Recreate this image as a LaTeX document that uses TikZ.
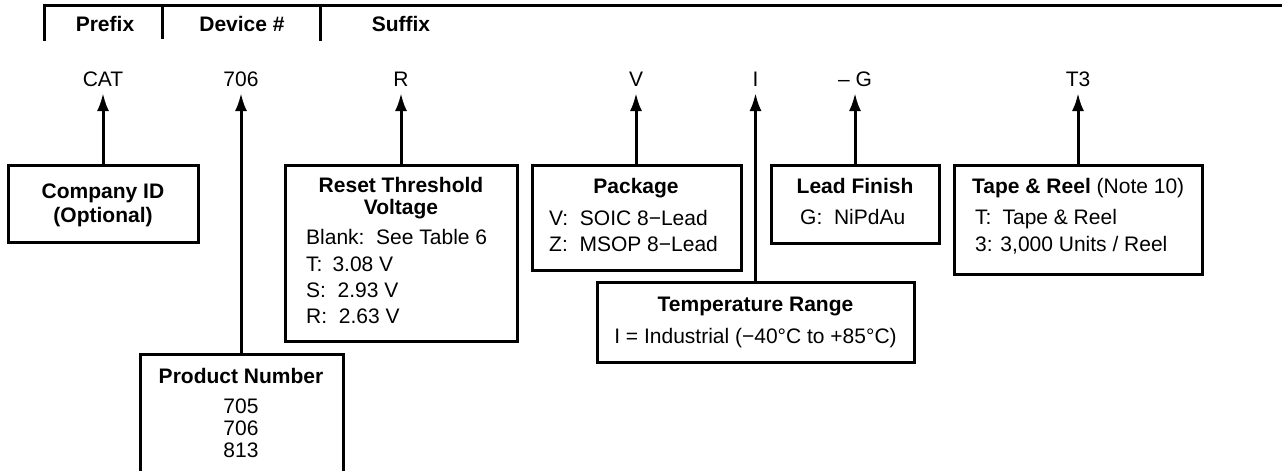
\documentclass[tikz,border=0pt]{standalone}
\usepackage{fontspec}
\setmainfont{Liberation Sans}
\usetikzlibrary{arrows.meta}
\tikzset{
  x=1pt,y=-1pt,
  boxed/.style={draw=black,line width=3pt,fill=white,inner sep=0pt,outer sep=0pt,anchor=north west},
  open/.style={draw=none,inner sep=0pt,outer sep=0pt,anchor=north west},
  link/.style={line width=3pt,draw=black,-{Latex[length=18pt,width=12pt]}},
  rule/.style={line width=3pt,draw=black},
  txt/.style={anchor=base,inner sep=0pt,font=\fontsize{21}{24}\selectfont},
  lft/.style={anchor=base west,inner sep=0pt,font=\fontsize{21}{24}\selectfont},
  hd/.style={anchor=base,inner sep=0pt,font=\fontsize{21}{24}\selectfont\bfseries},
}
\newcommand{\mybox}[5]{\node[boxed,minimum width=#4-#2,minimum height=#5-#3] (#1) at (#2,#3) {};}
\begin{document}
\begin{tikzpicture}
\useasboundingbox (0,0) rectangle (1282,471);
% header
\coordinate (hl) at (44,5.5); \coordinate (hr) at (1282,5.5);
\coordinate (ha) at (44,41); \coordinate (hb) at (162,5.5); \coordinate (hb2) at (162,39);
\coordinate (hc) at (320,5.5); \coordinate (hc2) at (320,41);
\draw[rule] (ha) -- (hl) -- (hr);
\draw[rule] (hb) -- (hb2);
\draw[rule] (hc) -- (hc2);
\node[hd] (p1) at (105,31) {Prefix};
\node[hd] (p2) at (242,31) {Device \#};
\node[hd] (p3) at (401,31) {Suffix};
% part labels
\node[txt] (cat) at (103,86) {CAT};
\node[txt] (n706) at (241,86) {706};
\node[txt] (r) at (401,86) {R};
\node[txt] (v) at (636,86) {V};
\node[txt] (i) at (755.5,86) {I};
\node[txt] (g) at (855,86) {– G};
\node[txt] (t3) at (1078,86) {T3};
\coordinate (catc) at (103,93);
\coordinate (n706c) at (241,93);
\coordinate (rc) at (401,93);
\coordinate (vc) at (636,93);
\coordinate (ic) at (755.5,93);
\coordinate (gc) at (855,93);
\coordinate (t3c) at (1078,93);
% boxes
\mybox{bco}{8}{165}{198}{242}
\mybox{bre}{285}{165}{517}{341}
\mybox{bpa}{532}{165}{741}{270}
\mybox{ble}{771}{165}{939}{243}
\mybox{bta}{954}{165}{1202}{274}
\mybox{bte}{597}{282}{914}{362}
\node[open,minimum width=203,minimum height=117] (bpr) at (140,354) {};
\draw[rule] (bpr.south west) -- (bpr.north west) -- (bpr.north east) -- (bpr.south east);
% connectors
\draw[link] (bco.north -| catc) -- (catc);
\draw[link] (bpr.north -| n706c) -- (n706c);
\draw[link] (bre.north -| rc) -- (rc);
\draw[link] (bpa.north -| vc) -- (vc);
\draw[link] (bte.north -| ic) -- (ic);
\draw[link] (ble.north -| gc) -- (gc);
\draw[link] (bta.north -| t3c) -- (t3c);
% company
\node[hd] (a1) at (103,198) {Company ID};
\node[hd] (a2) at (103,222) {(Optional)};
% reset
\node[hd] (b1) at (401,192) {Reset Threshold};
\node[hd] (b2) at (401,214) {Voltage};
\node[lft] (b3) at (306,244) {Blank:\ \ See Table 6};
\node[lft] (b4) at (306,271) {T:\hspace{10pt}3.08 V};
\node[lft] (b5) at (306,297) {S:\ \ 2.93 V};
\node[lft] (b6) at (306,323) {R:\ \ 2.63 V};
% package
\node[hd] (c1) at (636,193) {Package};
\node[lft] (c2) at (549,225) {V:\ \ SOIC 8−Lead};
\node[lft] (c3) at (549,251) {Z:\ \ MSOP 8−Lead};
% lead
\node[hd] (d1) at (855,193) {Lead Finish};
\node[lft] (d2) at (800,224) {G:\ \ NiPdAu};
% temperature
\node[hd] (e1) at (755.5,311) {Temperature Range};
\node[txt] (e2) at (755.5,343) {I = Industrial (−40°C to +85°C)};
% tape
\node[lft] (f1) at (972,193) {\textbf{Tape \& Reel} (Note 10)};
\node[lft] (f2) at (975,224) {T:\hspace{11pt}Tape \& Reel};
\node[lft] (f3) at (975,251) {3: 3,000 Units / Reel};
% product
\node[hd] (g1) at (241,383) {Product Number};
\node[txt] (g2) at (241,413) {705};
\node[txt] (g3) at (241,435) {706};
\node[txt] (g4) at (241,457) {813};
\end{tikzpicture}
\end{document}
